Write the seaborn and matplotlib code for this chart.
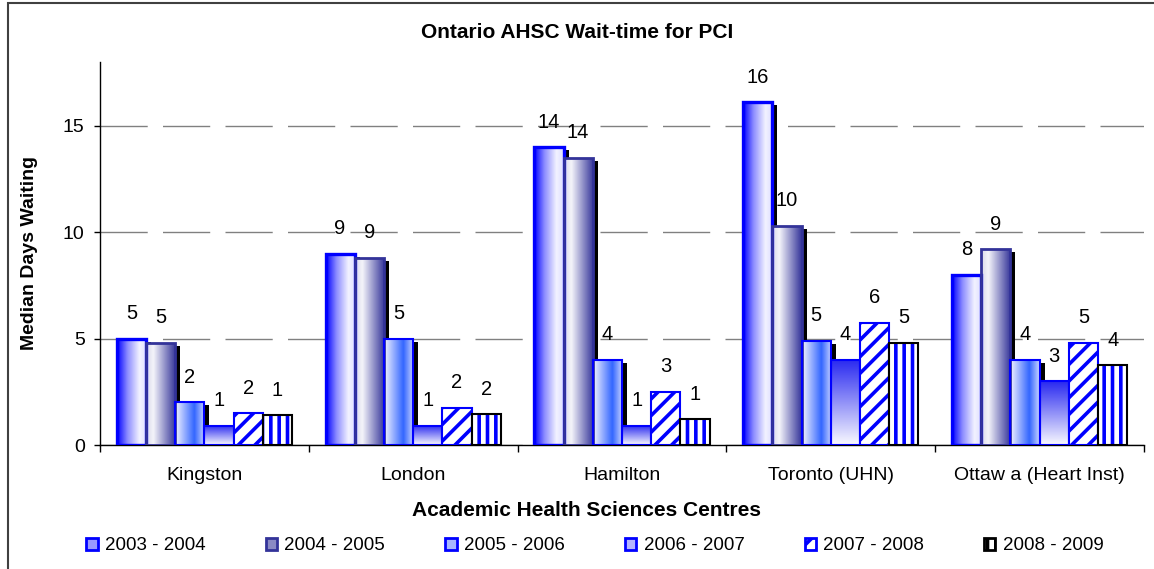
import numpy as np
import pandas as pd
import matplotlib
matplotlib.use("Agg")
import matplotlib.pyplot as plt
import matplotlib.transforms as mtransforms
from matplotlib.patches import Rectangle, Patch
from matplotlib.colors import LinearSegmentedColormap
import seaborn as sns

centres = ["Kingston", "London", "Hamilton", "Toronto (UHN)", "Ottaw a (Heart Inst)"]
periods = ["2003 - 2004", "2004 - 2005", "2005 - 2006", "2006 - 2007", "2007 - 2008", "2008 - 2009"]

# median days waiting, one list per period (same order as centres)
days_0304 = [5.0, 9.0, 14.0, 16.1, 8.0]
days_0405 = [4.8, 8.8, 13.5, 10.3, 9.2]
days_0506 = [2.0, 5.0, 4.0, 4.9, 4.0]
days_0607 = [0.9, 0.9, 0.9, 4.0, 3.0]
days_0708 = [1.5, 1.75, 2.5, 5.75, 4.8]
days_0809 = [1.4, 1.45, 1.2, 4.8, 3.75]

# data labels as printed on the chart
labels_0304 = ["5", "9", "14", "16", "8"]
labels_0405 = ["5", "9", "14", "10", "9"]
labels_0506 = ["2", "5", "4", "5", "4"]
labels_0607 = ["1", "1", "1", "4", "3"]
labels_0708 = ["2", "2", "3", "6", "5"]
labels_0809 = ["1", "2", "1", "5", "4"]

all_days = [days_0304, days_0405, days_0506, days_0607, days_0708, days_0809]
all_labels = [labels_0304, labels_0405, labels_0506, labels_0607, labels_0708, labels_0809]

rows = []
for p, vals in zip(periods, all_days):
    for c, v in zip(centres, vals):
        rows.append({"centre": c, "period": p, "days": v})
df = pd.DataFrame(rows)

sns.set_style("white")
plt.rcParams["font.family"] = ["Liberation Sans", "DejaVu Sans"]
plt.rcParams["hatch.linewidth"] = 2.6
for k in ["text.color", "axes.labelcolor", "xtick.color", "ytick.color"]:
    plt.rcParams[k] = "black"

fig = plt.figure(figsize=(11.54, 5.69), dpi=100)
ax = fig.add_axes([100 / 1154, 124 / 569, 1044 / 1154, 383 / 569])

sns.barplot(data=df, x="centre", y="days", hue="period", hue_order=periods,
            order=centres, width=0.84, saturation=1, legend=False,
            palette=["white"] * 6, ax=ax, zorder=3)

# gradient definitions per series (horizontal or vertical)
grads = [
    ("h", [(0.0, "#0000ff"), (0.35, "#8c8cff"), (0.75, "#f2f2ff"), (1.0, "#dedeff")]),
    ("h", [(0.0, "#d8d8e8"), (0.25, "#f4f4fa"), (1.0, "#333399")]),
    ("h", [(0.0, "#f6f6ff"), (0.65, "#3366ff"), (1.0, "#cfd8ff")]),
    ("v", [(0.0, "#fafaff"), (1.0, "#2828f0")]),
]
edge_cols = ["#0000ff", "#333399", "#0000ff", "#0000ff", "#0000ff", "black"]
edge_lw = [2.4, 2.0, 1.5, 1.5, 1.5, 1.5]

shadow_tr = mtransforms.offset_copy(ax.transData, fig=fig, x=5, y=-3, units="dots")

for i, cont in enumerate(ax.containers):
    for bar in cont.patches:
        x0, w, h = bar.get_x(), bar.get_width(), bar.get_height()
        if i < 4:
            ax.add_patch(Rectangle((x0, 0), w, h, facecolor="black", edgecolor="none",
                                   transform=shadow_tr, zorder=2, clip_on=True))
            kind, stops = grads[i]
            cmap = LinearSegmentedColormap.from_list("g%d" % i, stops)
            g = np.linspace(0, 1, 256)
            img = g[np.newaxis, :] if kind == "h" else g[:, np.newaxis]
            im = ax.imshow(img, cmap=cmap, extent=[x0, x0 + w, 0, h], origin="lower",
                           aspect="auto", zorder=3.1, interpolation="bilinear")
            im.set_clip_path(bar)
            bar.set_facecolor("none")
            bar.set_edgecolor(edge_cols[i])
            bar.set_linewidth(edge_lw[i])
            bar.set_zorder(3.2)
        elif i == 4:
            bar.set_facecolor("white")
            bar.set_edgecolor("#0000ff")
            bar.set_hatch("//")
            bar.set_linewidth(1.5)
            bar.set_zorder(3.2)
        else:
            bar.set_facecolor("white")
            bar.set_edgecolor("#0000ff")
            bar.set_hatch("||")
            bar.set_linewidth(0)
            bar.set_zorder(3.2)
            ax.add_patch(Rectangle((x0, 0), w, h, facecolor="none", edgecolor="black",
                                   linewidth=1.5, zorder=3.3))
    for bar, lab in zip(cont.patches, all_labels[i]):
        ax.annotate(lab, (bar.get_x() + bar.get_width() / 2, bar.get_height()),
                    xytext=(0, 18), textcoords="offset points", ha="center",
                    va="center", fontsize=14.5, zorder=5)

ax.set_xlim(-0.5, 4.5)
ax.set_ylim(0, 18)
ax.set_yticks([0, 5, 10, 15])
ax.yaxis.grid(True, color="#808080", linewidth=1, linestyle=(0, (34, 11)))
ax.set_axisbelow(True)
for s in ["top", "right"]:
    ax.spines[s].set_visible(False)
for s in ["left", "bottom"]:
    ax.spines[s].set_color("black")
    ax.spines[s].set_linewidth(1)
ax.tick_params(axis="y", left=True, length=4, width=1, color="black", labelsize=14, pad=7)
ax.tick_params(axis="x", which="major", length=0, labelsize=14, pad=16)
ax.set_xticks(np.arange(-0.5, 5, 1), minor=True)
ax.tick_params(axis="x", which="minor", bottom=True, length=5, width=1, color="black")
ax.set_xlabel("")
ax.set_ylabel("")

fig.text(577 / 1154, 1 - 32 / 569, "Ontario AHSC Wait-time for PCI", ha="center", va="center",
         fontsize=15, fontweight="bold")
fig.text(587 / 1154, 1 - 510 / 569, "Academic Health Sciences Centres", ha="center",
         va="center", fontsize=15, fontweight="bold")
fig.text(30 / 1154, 1 - 253 / 569, "Median Days Waiting", ha="center", va="center",
         rotation=90, fontsize=14, fontweight="bold")

leg_faces = ["#9a9aff", "#8a8ac4", "#a8b8ff", "#b4b4ff", "white", "white"]
handles = []
for i in range(6):
    hp = Patch(facecolor=leg_faces[i], edgecolor=edge_cols[i], linewidth=2)
    if i == 4:
        hp = Patch(facecolor="white", edgecolor="#0000ff", hatch="//", linewidth=2)
    if i == 5:
        hp = Patch(facecolor="white", edgecolor="black", hatch="||", linewidth=2)
    handles.append(hp)
fig.legend(handles, periods, loc="center", bbox_to_anchor=(595 / 1154, 1 - 546 / 569),
           ncol=6, frameon=False, fontsize=13.5, handlelength=0.6, handleheight=0.6,
           handletextpad=0.4, columnspacing=3.2)

fig.patches.append(Rectangle((8 / 1154, -0.02), 1.05, 1 - 3 / 569 + 0.02,
                             transform=fig.transFigure, facecolor="none",
                             edgecolor="#404040", linewidth=1.5))

fig.savefig("out.png", dpi=100)
